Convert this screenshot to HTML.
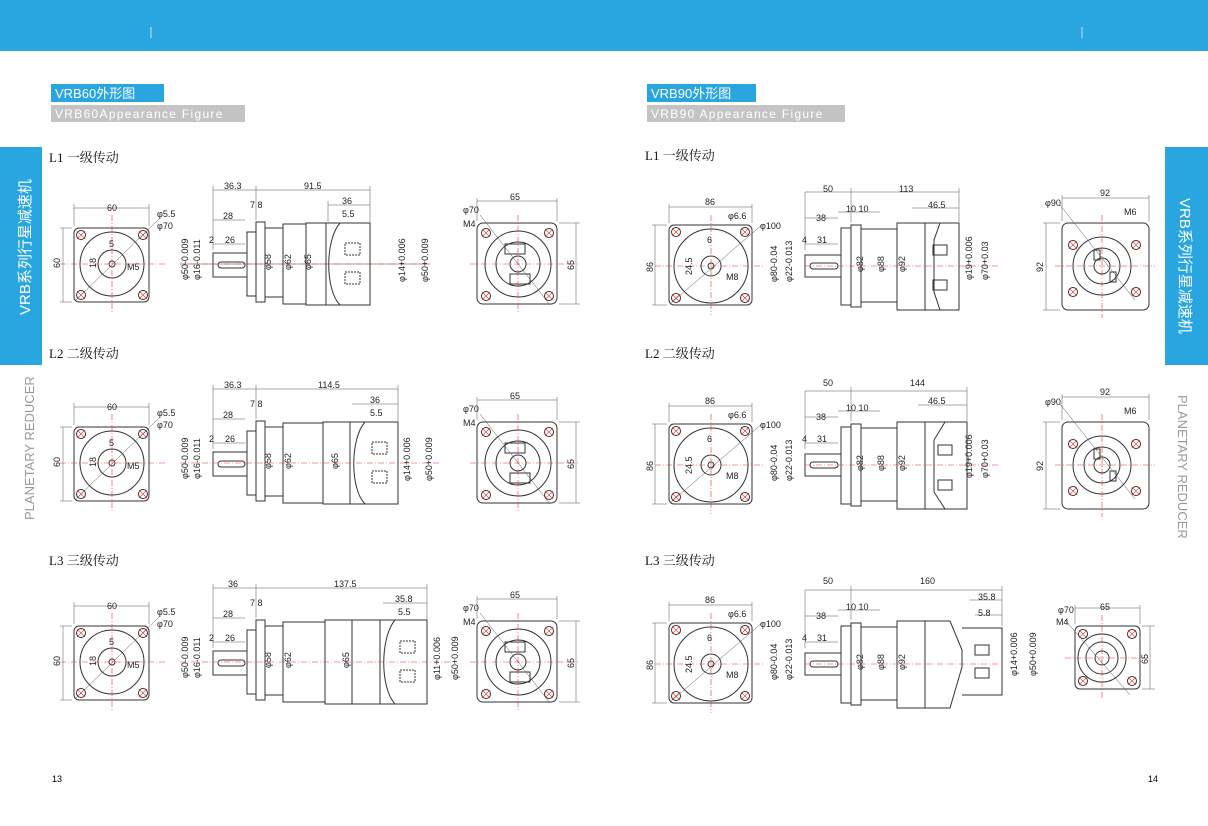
<!DOCTYPE html><html><head><meta charset="utf-8"><style>
body{margin:0;background:#fff}
svg{display:block}
text{font-family:"Liberation Sans","Noto Sans CJK SC",sans-serif}
.d{font-size:9px;fill:#222}
.t{font-family:"Liberation Serif","Noto Serif CJK SC","Noto Sans CJK SC",serif;font-size:13px;fill:#111}
.s{stroke:#333;fill:none;stroke-width:1}
.r{stroke:#e33;stroke-width:.6;stroke-dasharray:6 2 1 2;fill:none}
.dm{stroke:#555;stroke-width:.5;fill:none}
</style></head><body>
<svg width="1208" height="826" viewBox="0 0 1208 826">
<defs>
<g id="hole"><circle r="4.5" class="s"/><path d="M-4-4L4 4M-4 4L4-4" stroke="#e33" stroke-width=".6"/></g>
<g id="fL">
<rect x="74" y="228" width="75" height="74" rx="5" class="s"/>
<circle cx="112" cy="264" r="32" class="s"/><circle cx="112" cy="264" r="14" class="s" stroke-width=".5"/>
<circle cx="112" cy="264" r="3" class="s"/>
<use href="#hole" x="81" y="235"/><use href="#hole" x="143" y="235"/><use href="#hole" x="81" y="295"/><use href="#hole" x="143" y="295"/>
<path d="M60 264H165M112 215V312" class="r"/>
<path d="M76 300L160 218" class="dm"/>
<path d="M74 204V226M149 204V226M74 208H149M60 228H72M60 302H72M63 228V302" class="dm"/>
</g>
<g id="rL">
<rect x="477" y="223" width="80" height="81" rx="6" class="s"/>
<circle cx="518" cy="264" r="33" class="s" stroke-width="1.6"/><circle cx="518" cy="264" r="22" class="s"/><circle cx="518" cy="264" r="8" class="s"/>
<rect x="505" y="244" width="20" height="10" class="s"/><rect x="510" y="274" width="20" height="10" class="s"/>
<use href="#hole" x="486" y="233"/><use href="#hole" x="549" y="233"/><use href="#hole" x="486" y="296"/><use href="#hole" x="549" y="296"/>
<path d="M470 264H580M518 215V312" class="r"/>
<path d="M480 215L550 305" class="dm"/>
<path d="M477 198V221M557 198V221M477 201H557M559 223H580M559 304H580M576 223V304" class="dm"/>
</g>
<g id="fR">
<rect x="669" y="225" width="83" height="80" rx="5" class="s"/>
<circle cx="711" cy="266" r="37" class="s"/><circle cx="711" cy="266" r="10" class="s"/><circle cx="711" cy="266" r="3" class="s"/>
<use href="#hole" x="676" y="232"/><use href="#hole" x="745" y="232"/><use href="#hole" x="676" y="298"/><use href="#hole" x="745" y="298"/>
<path d="M655 266H765M711 215V315" class="r"/>
<path d="M670 304L763 224" class="dm"/>
<path d="M669 204V223M752 204V223M669 207H752M652 225H667M652 305H667M655 225V305" class="dm"/>
</g>
<g id="rR">
<rect x="1062" y="223" width="87" height="87" rx="6" class="s"/>
<circle cx="1102" cy="266" r="29" class="s" stroke-width="1.4"/><circle cx="1102" cy="266" r="18" class="s"/><circle cx="1102" cy="266" r="8" class="s"/>
<rect x="1094" y="250" width="6" height="10" class="s" fill="#ee8"/><rect x="1110" y="272" width="6" height="10" class="s" fill="#ee8"/>
<use href="#hole" x="1073" y="245"/><use href="#hole" x="1136" y="245"/><use href="#hole" x="1073" y="292"/><use href="#hole" x="1136" y="292"/>
<path d="M1055 266H1155M1102 215V318" class="r"/>
<path d="M1060 205L1135 300" class="dm"/>
<path d="M1062 195V221M1149 195V221M1062 198H1149M1043 223H1060M1043 310H1060M1046 223V310" class="dm"/>
</g>
</defs>
<rect x="0" y="0" width="1208" height="51" fill="#29a6e0"/>
<path d="M151 27V38M1082 27V38" stroke="#cde" stroke-width="1"/>
<rect x="51" y="84" width="113" height="18" fill="#29a6e0"/>
<text x="55" y="98" fill="#fff" font-size="13">VRB60外形图</text>
<rect x="51" y="105" width="194" height="17" fill="#c4c4c4"/>
<text x="55" y="118" fill="#fff" font-size="12" letter-spacing="1.3">VRB60Appearance Figure</text>
<rect x="647" y="84" width="109" height="18" fill="#29a6e0"/>
<text x="651" y="98" fill="#fff" font-size="13">VRB90外形图</text>
<rect x="647" y="105" width="198" height="17" fill="#c4c4c4"/>
<text x="651" y="118" fill="#fff" font-size="12" letter-spacing="1.3">VRB90 Appearance Figure</text>
<rect x="0" y="147" width="42" height="218" fill="#29a6e0"/>
<text transform="translate(30 315) rotate(-90)" fill="#fff" font-size="15">VRB系列行星减速机</text>
<rect x="1165" y="147" width="43" height="218" fill="#29a6e0"/>
<text transform="translate(1180 198) rotate(90)" fill="#fff" font-size="15">VRB系列行星减速机</text>
<text transform="translate(34 520) rotate(-90)" fill="#999" font-size="13" font-family="Liberation Serif">PLANETARY REDUCER</text>
<text transform="translate(1178 395) rotate(90)" fill="#999" font-size="13" font-family="Liberation Serif">PLANETARY REDUCER</text>
<text x="52" y="782" font-size="9">13</text><text x="1148" y="782" font-size="9">14</text>
<text class="t" x="49" y="162">L1 一级传动</text><text class="t" x="49" y="358">L2 二级传动</text><text class="t" x="49" y="565">L3 三级传动</text>
<text class="t" x="645" y="160">L1 一级传动</text><text class="t" x="645" y="358">L2 二级传动</text><text class="t" x="645" y="565">L3 三级传动</text>

<!-- LEFT PAGE rows -->
<g id="rowL"><use href="#fL"/><use href="#rL"/>
<text class="d" x="107" y="211">60</text><text class="d" x="157" y="217">φ5.5</text><text class="d" x="157" y="229">φ70</text>
<text class="d" x="109" y="247">5</text><text class="d" x="127" y="270">M5</text>
<text class="d" transform="translate(96 268) rotate(-90)">18</text><text class="d" transform="translate(60 268) rotate(-90)">60</text>
<text class="d" x="510" y="200">65</text><text class="d" x="463" y="213">φ70</text><text class="d" x="463" y="227">M4</text>
<text class="d" transform="translate(574 270) rotate(-90)">65</text>
<text class="d" transform="translate(188 280) rotate(-90)">φ50-0.009</text><text class="d" transform="translate(200 280) rotate(-90)">φ16-0.011</text>
<text class="d" transform="translate(271 270) rotate(-90)">φ58</text><text class="d" transform="translate(291 270) rotate(-90)">φ62</text>
</g>
<use href="#rowL" y="199"/><use href="#rowL" y="398"/>
<!-- side views left -->
<g>
<rect x="213" y="253" width="34" height="24" class="s"/><rect x="218" y="262" width="27" height="6" rx="3" class="s"/>
<rect x="247" y="232" width="9" height="64" class="s"/><rect x="256" y="222" width="9" height="80" class="s"/>
<rect x="265" y="228" width="18" height="69" class="s"/><rect x="283" y="224" width="23" height="80" class="s"/>
<path d="M306 223H370V305H306ZM326 223V305M340 223C325 240 325 290 340 305" class="s"/>
<rect x="345" y="243" width="15" height="12" class="s" stroke-dasharray="2 1"/><rect x="345" y="272" width="15" height="12" class="s" stroke-dasharray="2 1"/>
<path d="M180 264H430M213 190H370M213 186V250M256 186V220M370 186V222M213 220H245M213 244H245M328 205H370M328 201V222" class="dm"/>
<path d="M180 264H430" class="r"/>
<text class="d" x="224" y="189">36.3</text><text class="d" x="304" y="189">91.5</text><text class="d" x="250" y="208">7 8</text>
<text class="d" x="223" y="219">28</text><text class="d" x="342" y="204">36</text><text class="d" x="342" y="217">5.5</text>
<text class="d" x="209" y="243">2</text><text class="d" x="225" y="243">26</text>
<text class="d" transform="translate(311 270) rotate(-90)">φ65</text>
<text class="d" transform="translate(405 282) rotate(-90)">φ14+0.006</text><text class="d" transform="translate(428 282) rotate(-90)">φ50+0.009</text>
</g>
<g transform="translate(0 199)">
<rect x="213" y="253" width="34" height="24" class="s"/><rect x="218" y="262" width="27" height="6" rx="3" class="s"/>
<rect x="247" y="232" width="9" height="64" class="s"/><rect x="256" y="222" width="9" height="80" class="s"/>
<rect x="265" y="228" width="18" height="69" class="s"/><rect x="283" y="224" width="40" height="80" class="s"/>
<path d="M323 223H398V305H323ZM350 223V305M365 223C350 240 350 290 365 305" class="s"/>
<rect x="372" y="243" width="15" height="12" class="s" stroke-dasharray="2 1"/><rect x="372" y="272" width="15" height="12" class="s" stroke-dasharray="2 1"/>
<path d="M213 190H398M213 186V250M256 186V220M398 186V222M213 220H245M213 244H245M352 205H398" class="dm"/>
<path d="M180 264H440" class="r"/>
<text class="d" x="224" y="189">36.3</text><text class="d" x="318" y="189">114.5</text><text class="d" x="250" y="208">7 8</text>
<text class="d" x="223" y="219">28</text><text class="d" x="370" y="204">36</text><text class="d" x="370" y="217">5.5</text>
<text class="d" x="209" y="243">2</text><text class="d" x="225" y="243">26</text>
<text class="d" transform="translate(338 270) rotate(-90)">φ65</text>
<text class="d" transform="translate(410 282) rotate(-90)">φ14+0.006</text><text class="d" transform="translate(432 282) rotate(-90)">φ50+0.009</text>
</g>
<g transform="translate(0 398)">
<rect x="213" y="253" width="34" height="24" class="s"/><rect x="218" y="262" width="27" height="6" rx="3" class="s"/>
<rect x="247" y="232" width="9" height="64" class="s"/><rect x="256" y="222" width="9" height="80" class="s"/>
<rect x="265" y="228" width="18" height="69" class="s"/><rect x="283" y="224" width="42" height="80" class="s"/>
<path d="M325 222H427V306H325ZM352 222V306M380 222V306M395 222C380 240 380 290 395 306" class="s"/>
<rect x="400" y="243" width="15" height="12" class="s" stroke-dasharray="2 1"/><rect x="400" y="272" width="15" height="12" class="s" stroke-dasharray="2 1"/>
<path d="M213 190H427M213 186V250M256 186V220M427 186V222M213 220H245M213 244H245M383 205H427" class="dm"/>
<path d="M180 264H450" class="r"/>
<text class="d" x="228" y="189">36</text><text class="d" x="334" y="189">137.5</text><text class="d" x="250" y="208">7 8</text>
<text class="d" x="223" y="219">28</text><text class="d" x="395" y="204">35.8</text><text class="d" x="398" y="217">5.5</text>
<text class="d" x="209" y="243">2</text><text class="d" x="225" y="243">26</text>
<text class="d" transform="translate(349 270) rotate(-90)">φ65</text>
<text class="d" transform="translate(440 282) rotate(-90)">φ11+0.006</text><text class="d" transform="translate(458 282) rotate(-90)">φ50+0.009</text>
</g>

<!-- RIGHT PAGE -->
<g id="rowR"><use href="#fR"/>
<text class="d" x="705" y="205">86</text><text class="d" x="728" y="219">φ6.6</text><text class="d" x="760" y="229">φ100</text>
<text class="d" x="707" y="243">6</text><text class="d" x="726" y="280">M8</text>
<text class="d" transform="translate(692 275) rotate(-90)">24.5</text><text class="d" transform="translate(653 272) rotate(-90)">86</text>
<text class="d" transform="translate(777 282) rotate(-90)">φ80-0.04</text><text class="d" transform="translate(792 282) rotate(-90)">φ22-0.013</text>
<text class="d" transform="translate(863 272) rotate(-90)">φ82</text><text class="d" transform="translate(884 272) rotate(-90)">φ88</text>
</g>
<use href="#rowR" y="199"/><use href="#rowR" y="398"/>
<use href="#rR"/><use href="#rR" y="199"/>
<text class="d" x="1100" y="196">92</text><text class="d" x="1045" y="206">φ90</text><text class="d" x="1124" y="215">M6</text>
<text class="d" transform="translate(1043 272) rotate(-90)">92</text>
<text class="d" x="1100" y="395">92</text><text class="d" x="1045" y="405">φ90</text><text class="d" x="1124" y="414">M6</text>
<text class="d" transform="translate(1043 471) rotate(-90)">92</text>
<!-- L3 right small view -->
<g>
<rect x="1075" y="626" width="65" height="63" rx="5" class="s"/>
<circle cx="1102" cy="658" r="24" class="s" stroke-width="1.4"/><circle cx="1102" cy="658" r="16" class="s"/><circle cx="1102" cy="658" r="7" class="s"/>
<use href="#hole" x="1083" y="634"/><use href="#hole" x="1132" y="634"/><use href="#hole" x="1083" y="681"/><use href="#hole" x="1132" y="681"/>
<path d="M1065 658H1150M1102 615V700" class="r"/>
<path d="M1075 605V624M1140 605V624M1075 608H1140M1142 626H1155M1142 689H1155M1150 626V689M1065 620L1130 695" class="dm"/>
<text class="d" x="1100" y="610">65</text><text class="d" x="1058" y="613">φ70</text><text class="d" x="1056" y="625">M4</text>
<text class="d" transform="translate(1148 664) rotate(-90)">65</text>
</g>
<!-- side views right -->
<g id="sR">
<rect x="805" y="255" width="36" height="22" class="s"/><rect x="810" y="263" width="28" height="6" rx="3" class="s"/>
<rect x="841" y="228" width="10" height="77" class="s"/><rect x="851" y="225" width="10" height="82" class="s"/>
<rect x="861" y="229" width="36" height="73" class="s"/><rect x="897" y="223" width="28" height="87" class="s"/>
<path d="M805 266H1000" class="r"/>
<text class="d" transform="translate(905 272) rotate(-90)">φ92</text>
<text class="d" x="846" y="212">10 10</text><text class="d" x="816" y="221">38</text><text class="d" x="802" y="243">4</text><text class="d" x="817" y="243">31</text>
<path d="M805 192V250M851 188V222M805 218H838M805 244H838M838 212H880" class="dm"/>
</g>
<path d="M925 223H959V310H925ZM940 223L934 240V292L940 310" class="s"/>
<rect x="933" y="245" width="14" height="10" class="s"/><rect x="933" y="280" width="14" height="10" class="s"/>
<path d="M805 192H959M959 188V222M912 208H959" class="dm"/>
<text class="d" x="823" y="192">50</text><text class="d" x="899" y="192">113</text><text class="d" x="928" y="208">46.5</text>
<text class="d" transform="translate(972 280) rotate(-90)">φ19+0.006</text><text class="d" transform="translate(988 280) rotate(-90)">φ70+0.03</text>
<use href="#sR" y="199"/>
<path d="M925 422H967V509H925ZM945 422L934 440V492L945 509" class="s"/>
<rect x="938" y="445" width="14" height="10" class="s"/><rect x="938" y="480" width="14" height="10" class="s"/>
<path d="M805 391H967M967 387V421M918 405H967" class="dm"/>
<text class="d" x="823" y="386">50</text><text class="d" x="910" y="386">144</text><text class="d" x="928" y="404">46.5</text>
<text class="d" transform="translate(972 478) rotate(-90)">φ19+0.006</text><text class="d" transform="translate(988 478) rotate(-90)">φ70+0.03</text>
<use href="#sR" y="398"/>
<path d="M925 621H950L962 650V667L950 708H925ZM962 628H1002V695H962" class="s"/>
<rect x="975" y="645" width="14" height="10" class="s"/><rect x="975" y="668" width="14" height="10" class="s"/>
<path d="M805 590H1002M1002 586V626M970 600H1002M975 615H1002" class="dm"/>
<text class="d" x="823" y="584">50</text><text class="d" x="920" y="584">160</text><text class="d" x="978" y="600">35.8</text><text class="d" x="978" y="616">5.8</text>
<text class="d" transform="translate(1017 676) rotate(-90)">φ14+0.006</text><text class="d" transform="translate(1036 676) rotate(-90)">φ50+0.009</text>
</svg>
</body></html>
